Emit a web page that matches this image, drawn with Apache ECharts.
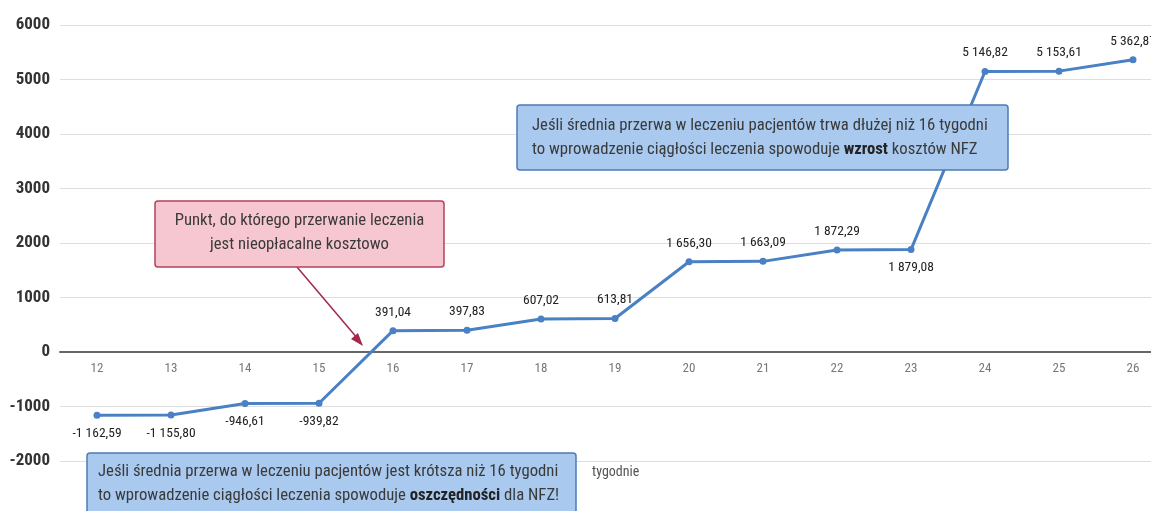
<!DOCTYPE html>
<html><head><meta charset="utf-8">
<script src="https://cdn.jsdelivr.net/npm/echarts@6/dist/echarts.min.js"></script>
<style>html,body{margin:0;padding:0;background:#fff}#c{width:1151px;height:511px}</style>
</head><body><div id="c"></div>
<script>
const weeks = ['12','13','14','15','16','17','18','19','20','21','22','23','24','25','26'];
const values = [-1162.59,-1155.80,-946.61,-939.82,391.04,397.83,607.02,613.81,1656.30,1663.09,1872.29,1879.08,5146.82,5153.61,5362.87];
const labelBelow = [true,true,true,true,false,false,false,false,false,false,false,true,false,false,false];
const yTicks = [-2000,-1000,0,1000,2000,3000,4000,5000,6000];
const xName = 'tygodnie';
const noteRed = ['Punkt, do którego przerwanie leczenia','jest nieopłacalne kosztowo'];
const noteTop = ['Jeśli średnia przerwa w leczeniu pacjentów trwa dłużej niż 16 tygodni','to wprowadzenie ciągłości leczenia spowoduje {b|wzrost} kosztów NFZ'];
const noteBottom = ['Jeśli średnia przerwa w leczeniu pacjentów jest krótsza niż 16 tygodni','to wprowadzenie ciągłości leczenia spowoduje {b|oszczędności} dla NFZ!'];

const cond = '"Roboto Condensed","Liberation Sans Narrow","DejaVu Sans Condensed",sans-serif';
function fmt(v){
  const neg = v < 0; v = Math.abs(v);
  let [i,d] = v.toFixed(2).split('.');
  i = i.replace(/\B(?=(\d{3})+(?!\d))/g,' ');
  return (neg?'-':'') + i + ',' + d;
}
const chart = echarts.init(document.getElementById('c'));
const boxText = {fill:'#3a3a3a', font:'16.7px '+cond, lineHeight:24, rich:{b:{fontWeight:'bold', fontSize:16.7, fontFamily:cond, fill:'#222'}}};
chart.setOption({
  animation:false,
  grid:{left:60, top:25, width:1110, height:436, outerBoundsMode:'none', containLabel:false},
  xAxis:{type:'category', data:weeks, boundaryGap:true, offset:-109,
    axisLine:{onZero:false, lineStyle:{color:'#666', width:2}},
    axisTick:{show:false},
    axisLabel:{color:'#777', fontSize:13, fontFamily:cond, margin:10}},
  yAxis:{type:'value', min:-2000, max:6000, interval:1000,
    axisLine:{show:false}, axisTick:{show:false},
    splitLine:{lineStyle:{color:'#dedede', width:1}},
    axisLabel:{color:'#333', fontSize:17, fontWeight:'bold', fontFamily:cond, margin:10,
      formatter:v=>yTicks.includes(v)?String(v):''}},
  series:[{type:'line', data:values.map((v,i)=>({value:v, label:{position:labelBelow[i]?'bottom':'top'}})),
    lineStyle:{color:'#4a80c4', width:3}, itemStyle:{color:'#4a80c4'},
    symbol:'circle', symbolSize:7,
    label:{show:true, formatter:p=>fmt(p.value), color:'#222', fontSize:13.5, fontFamily:cond, distance:8}}],
  graphic:[
    {type:'line', shape:{x1:297,y1:267,x2:358,y2:339}, style:{stroke:'#a3284a', lineWidth:1.5}, z:50},
    {type:'polygon', shape:{points:[[363,346],[351,339],[358,333]]}, style:{fill:'#a3284a'}, z:50},
    {type:'rect', shape:{x:155,y:201,width:289,height:66,r:3}, style:{fill:'#f6c7d0', stroke:'#b4415e', lineWidth:1.5}, z:60},
    {type:'text', x:299.5, y:233, style:Object.assign({}, boxText, {text:noteRed.join('\n'), align:'center', verticalAlign:'middle'}), z:61},
    {type:'rect', shape:{x:517,y:105,width:491,height:65,r:3}, style:{fill:'#a9c9ee', stroke:'#4d7bb5', lineWidth:1.5}, z:60},
    {type:'text', x:532, y:137.5, style:Object.assign({}, boxText, {text:noteTop.join('\n'), align:'left', verticalAlign:'middle'}), z:61},
    {type:'rect', shape:{x:87,y:453,width:489,height:70,r:3}, style:{fill:'#a9c9ee', stroke:'#4d7bb5', lineWidth:1.5}, z:60},
    {type:'text', x:98, y:484, style:Object.assign({}, boxText, {text:noteBottom.join('\n'), align:'left', verticalAlign:'middle'}), z:61},
    {type:'text', x:592, y:472, style:{text:xName, fill:'#555', font:'14px '+cond, verticalAlign:'middle'}, z:61}
  ]
});
</script></body></html>
